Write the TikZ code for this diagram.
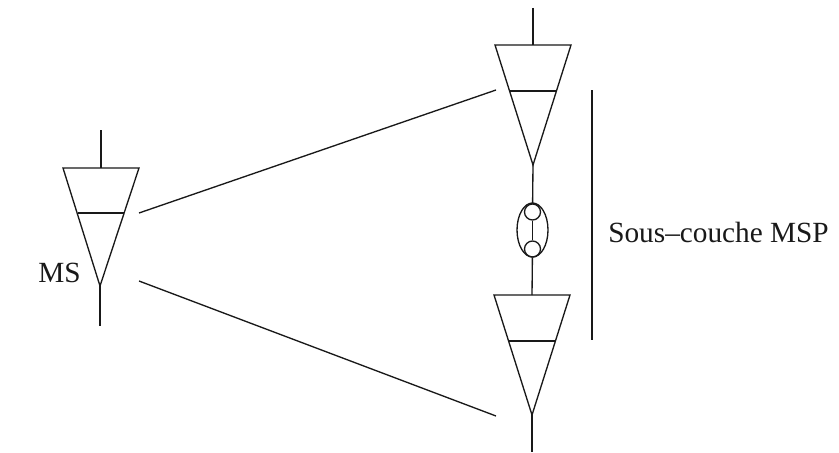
\documentclass[tikz,border=0pt]{standalone}
\usepackage{fontspec}
\setmainfont{Liberation Serif}
\usetikzlibrary{shapes.geometric}
\tikzset{x=0.0264cm,y=-0.0264cm,
  ln/.style={draw=black!90,line width=1pt},
  lab/.style={font=\fontsize{22}{26}\selectfont,text=black!90,inner sep=0pt,anchor=west},
  ring/.style={circle,draw=black!90,line width=1pt,inner sep=0pt,minimum size=0.4224cm},
  oval/.style={ellipse,draw=black!90,line width=1pt,inner sep=0pt,minimum width=0.818cm,minimum height=1.426cm}}
\begin{document}
\begin{tikzpicture}
\useasboundingbox (0,0) rectangle (839,452);
\fill[white] (0,0) rectangle (839,452);
% left cell
\coordinate (la) at (63,168);\coordinate (lb) at (139,168);\coordinate (lc) at (100,286);
\coordinate (lt) at (101,130);\coordinate (ltm) at (101,168);\coordinate (lbt) at (100,326);
\coordinate (lb1) at (78,213);\coordinate (lb2) at (124,213);
\draw[ln] (la)--(lb)--(lc)--cycle;\draw[ln] (lt)--(ltm);\draw[ln] (lc)--(lbt);\draw[ln] (lb1)--(lb2);
% top right
\coordinate (ta) at (495,45);\coordinate (tb) at (571,45);\coordinate (tc) at (533,165);
\coordinate (tt) at (533,8);\coordinate (ttm) at (533,45);
\coordinate (tb1) at (510,91);\coordinate (tb2) at (556,91);
\draw[ln] (ta)--(tb)--(tc)--cycle;\draw[ln] (tt)--(ttm);\draw[ln] (tb1)--(tb2);
% bottom right
\coordinate (ba) at (494,295);\coordinate (bb) at (570,295);\coordinate (bc) at (532,415);
\coordinate (bbt) at (532,452);\coordinate (btm) at (532,295);
\coordinate (bb1) at (509,341);\coordinate (bb2) at (555,341);
\draw[ln] (ba)--(bb)--(bc)--cycle;\draw[ln] (bc)--(bbt);\draw[ln] (bb1)--(bb2);
% coupler
\node[oval] (cpl) at (532.5,230) {};
\node[ring] (r1) at (532.5,212) {};
\node[ring] (r2) at (532.5,249) {};
\draw[ln] (r1)--(r2);
\draw[ln] (tc)--(r1);
\draw[ln] (r2)--(btm);
% connectors
\coordinate (c1) at (139,213);\coordinate (c2) at (496,90);
\coordinate (c3) at (139,281);\coordinate (c4) at (496,416);
\draw[ln] (c1)--(c2);\draw[ln] (c3)--(c4);
\coordinate (v1) at (592,90);\coordinate (v2) at (592,340);
\draw[ln] (v1)--(v2);
\node[lab] (ms) at (38,273) {MS};
\node[lab] (sc) at (608,232) {Sous--couche MSP};
\end{tikzpicture}
\end{document}
